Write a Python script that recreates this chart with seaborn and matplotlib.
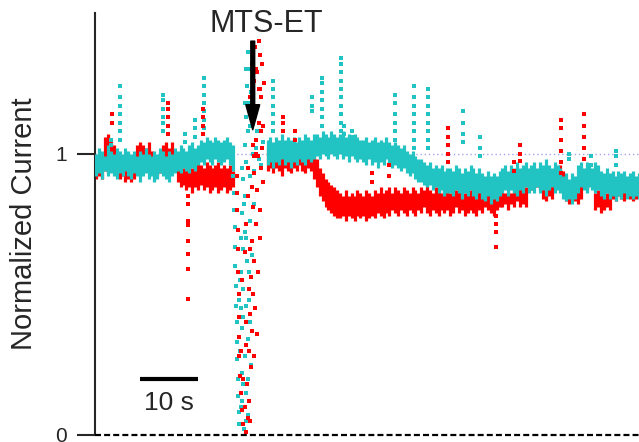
import numpy as np
import pandas as pd
import matplotlib
matplotlib.use('Agg')
import matplotlib.pyplot as plt
import seaborn as sns

# sampling grid of the two trace segments (0.5 s bins), gap = MTS-ET application
t_before = np.arange(0.25, 24.0, 0.5)
t_after = np.arange(29.75, 94.0, 0.5)

# noise envelope of each trace (low / high value per bin)
cyan_lo_before = [0.92, 0.93, 0.91, 0.94, 0.92, 0.93, 0.92, 0.91, 0.93, 0.92, 0.94, 0.92,
                  0.91, 0.93, 0.92, 0.90, 0.92, 0.93, 0.91, 0.92, 0.90, 0.91, 0.93, 0.92,
                  0.91, 0.90, 0.92, 0.93, 0.94, 0.93, 0.95, 0.94, 0.93, 0.95, 0.94, 0.96,
                  0.97, 0.96, 0.98, 0.97, 0.96, 0.98, 0.97, 0.96, 0.97, 0.98, 0.96, 0.94]
cyan_hi_before = [1.00, 1.02, 1.01, 0.99, 1.03, 1.01, 1.00, 1.02, 1.01, 1.00, 1.02, 1.01,
                  1.00, 1.01, 0.99, 1.01, 1.00, 1.02, 1.00, 0.99, 1.01, 1.00, 1.02, 1.01,
                  0.99, 1.01, 1.00, 1.02, 1.01, 1.03, 1.02, 1.01, 1.03, 1.04, 1.02, 1.03,
                  1.05, 1.04, 1.06, 1.05, 1.04, 1.06, 1.05, 1.04, 1.05, 1.06, 1.04, 1.03]
red_lo_before = [0.91, 0.92, 0.91, 0.94, 0.93, 0.95, 0.94, 0.92, 0.91, 0.92, 0.90, 0.91,
                 0.90, 0.91, 0.95, 0.96, 0.95, 0.97, 0.96, 0.95, 0.93, 0.92, 0.93, 0.96,
                 0.95, 0.97, 0.96, 0.95, 0.90, 0.88, 0.89, 0.87, 0.88, 0.86, 0.88, 0.87,
                 0.89, 0.87, 0.88, 0.86, 0.87, 0.88, 0.86, 0.87, 0.88, 0.86, 0.87, 0.88]
red_hi_before = [0.98, 0.99, 0.98, 1.06, 1.07, 1.05, 1.03, 0.99, 0.98, 0.97, 0.98, 0.96,
                 0.95, 0.96, 1.03, 1.04, 1.03, 1.02, 1.04, 1.01, 0.98, 0.97, 0.99, 1.03,
                 1.04, 1.02, 1.04, 1.01, 0.97, 0.96, 0.95, 0.96, 0.97, 0.95, 0.96, 0.97,
                 0.96, 0.95, 0.97, 0.96, 0.95, 0.96, 0.97, 0.95, 0.96, 0.95, 0.96, 0.94]

cyan_lo_after = [0.96, 0.97, 0.95, 0.97, 0.96, 0.98, 0.96, 0.97, 0.95, 0.97, 0.96, 0.98, 0.97, 0.96, 0.98, 0.97, 0.98,
                 0.99, 0.98, 1.00, 0.99, 0.98, 1.00, 0.99, 0.98, 1.00, 0.98, 0.99, 0.97, 0.99, 0.98, 0.97, 0.98,
                 0.97, 0.96, 0.98, 0.96, 0.97, 0.95, 0.97, 0.96, 0.98, 0.96, 0.95,
                 0.96, 0.95, 0.94, 0.95, 0.93, 0.92, 0.93, 0.91, 0.90,
                 0.90, 0.89, 0.88, 0.89, 0.87, 0.88, 0.86, 0.87, 0.85, 0.86,
                 0.86, 0.85, 0.87, 0.86, 0.84, 0.86, 0.85, 0.87, 0.85, 0.84, 0.86,
                 0.84, 0.83, 0.85, 0.82, 0.84, 0.83, 0.85,
                 0.86, 0.87, 0.85, 0.87, 0.86, 0.85, 0.87, 0.86, 0.88, 0.86,
                 0.87, 0.86, 0.88, 0.86, 0.87, 0.85, 0.87, 0.88, 0.86, 0.87, 0.86,
                 0.84, 0.83, 0.84, 0.82, 0.84,
                 0.86, 0.88, 0.87, 0.86, 0.88, 0.87, 0.86, 0.87,
                 0.85, 0.84, 0.86, 0.84, 0.85, 0.83, 0.85, 0.84, 0.86, 0.84, 0.85, 0.84, 0.85, 0.84]
cyan_hi_after = [1.05, 1.06, 1.04, 1.06, 1.05, 1.07, 1.05, 1.06, 1.05, 1.06, 1.04, 1.06, 1.05, 1.07, 1.06, 1.05, 1.07,
                 1.07, 1.06, 1.08, 1.07, 1.06, 1.08, 1.07, 1.06, 1.07, 1.08, 1.06, 1.07, 1.06, 1.07, 1.06, 1.05,
                 1.05, 1.06, 1.04, 1.05, 1.06, 1.04, 1.05, 1.04, 1.06, 1.04, 1.03,
                 1.04, 1.03, 1.02, 1.03, 1.01, 1.00, 1.01, 0.99, 0.98,
                 0.98, 0.97, 0.96, 0.97, 0.95, 0.96, 0.95, 0.96, 0.94, 0.95,
                 0.95, 0.94, 0.96, 0.95, 0.93, 0.95, 0.94, 0.96, 0.95, 0.93, 0.95,
                 0.93, 0.92, 0.94, 0.92, 0.93, 0.92, 0.94,
                 0.95, 0.96, 0.94, 0.96, 0.95, 0.97, 0.95, 0.96, 0.97, 0.95,
                 0.96, 0.97, 0.95, 0.97, 0.96, 0.98, 0.96, 0.95, 0.97, 0.96, 0.95,
                 0.92, 0.93, 0.91, 0.93, 0.92,
                 0.96, 0.97, 0.95, 0.97, 0.96, 0.95, 0.97, 0.96,
                 0.94, 0.93, 0.95, 0.93, 0.94, 0.92, 0.94, 0.93, 0.94, 0.92, 0.93, 0.94, 0.92, 0.93]
red_lo_after = [0.94, 0.95, 0.93, 0.95, 0.94, 0.92, 0.95, 0.94, 0.93, 0.95, 0.94, 0.96, 0.94, 0.93, 0.95, 0.94,
                0.91, 0.88, 0.85, 0.83, 0.81, 0.80, 0.79, 0.78, 0.77,
                0.77, 0.78, 0.76, 0.78, 0.77, 0.76, 0.78, 0.77, 0.78, 0.76, 0.77, 0.78, 0.77, 0.79, 0.78, 0.77,
                0.79, 0.78, 0.80, 0.79, 0.78, 0.80, 0.79, 0.78, 0.80, 0.79,
                0.78, 0.80, 0.79, 0.81, 0.79, 0.78, 0.80, 0.79, 0.78, 0.80,
                0.79, 0.80, 0.78, 0.79, 0.81, 0.79, 0.80, 0.78, 0.79, 0.80,
                0.79, 0.78, 0.80, 0.79, 0.81, 0.80, 0.79, 0.78, 0.80, 0.81,
                0.81, 0.82, 0.80, 0.82, 0.81, 0.83, 0.81, 0.82, 0.81,
                0.88, 0.87, 0.89, 0.88, 0.87,
                0.84, 0.83, 0.85, 0.84,
                0.89, 0.90, 0.88, 0.89,
                0.83, 0.82, 0.84, 0.83, 0.82, 0.84,
                0.88, 0.87, 0.89, 0.88,
                0.80, 0.81, 0.79, 0.80, 0.81, 0.80,
                0.84, 0.83, 0.85, 0.84, 0.83, 0.85, 0.84, 0.83, 0.84, 0.85]
red_hi_after = [1.02, 1.03, 1.01, 1.04, 1.02, 1.03, 1.01, 1.02, 1.04, 1.02, 1.01, 1.03, 1.02, 1.01, 1.03, 1.00,
                1.00, 0.98, 0.95, 0.93, 0.91, 0.90, 0.89, 0.88, 0.87,
                0.86, 0.85, 0.87, 0.85, 0.86, 0.85, 0.87, 0.86, 0.85, 0.87, 0.86, 0.85, 0.87, 0.86, 0.88, 0.86,
                0.87, 0.88, 0.86, 0.88, 0.87, 0.86, 0.88, 0.87, 0.86, 0.88,
                0.87, 0.86, 0.88, 0.87, 0.89, 0.87, 0.86, 0.88, 0.87, 0.86,
                0.88, 0.87, 0.86, 0.88, 0.87, 0.89, 0.87, 0.86, 0.88, 0.87,
                0.86, 0.88, 0.87, 0.86, 0.88, 0.87, 0.86, 0.88, 0.87, 0.88,
                0.87, 0.86, 0.88, 0.86, 0.87, 0.86, 0.88, 0.87, 0.88,
                0.94, 0.95, 0.93, 0.94, 0.92,
                0.90, 0.91, 0.89, 0.90,
                0.95, 0.94, 0.96, 0.94,
                0.89, 0.90, 0.88, 0.90, 0.89, 0.90,
                0.94, 0.95, 0.93, 0.94,
                0.86, 0.87, 0.86, 0.85, 0.86, 0.87,
                0.89, 0.90, 0.88, 0.89, 0.90, 0.88, 0.89, 0.90, 0.88, 0.89]

# single samples: spikes and the wash-in transient
cyan_dot_t = [4.3, 4.3, 4.3, 4.3, 4.3, 4.3, 4.3, 2.8, 2.8,
              11.7, 11.7, 11.7, 11.7, 11.7, 11.7, 15.5, 15.5, 17.2, 17.2, 17.2,
              18.8, 18.8, 18.8, 18.8, 18.8, 18.8, 18.8,
              23.8, 23.9, 24.0, 24.1, 24.15, 24.2, 24.3, 24.35, 24.4, 24.5, 24.55, 24.6, 24.7, 24.8, 24.9,
              25.1, 25.3, 25.0, 25.4, 25.2, 25.6, 25.1, 25.5, 25.8, 25.3, 25.9, 25.6, 26.1, 25.8, 26.3,
              26.0, 26.5, 26.2, 26.6, 26.4, 25.7, 26.0, 26.3, 26.6, 26.2, 26.8, 27.0, 27.3, 27.5, 27.8,
              28.2, 26.9, 26.4, 28.6, 28.9,
              25.0, 25.4, 25.9, 25.5, 26.1, 25.7, 26.4, 26.7, 26.9, 26.1, 25.9, 26.5, 26.0, 25.6, 26.8,
              27.1, 26.7, 27.2, 25.2, 24.9, 25.3, 26.3, 27.4, 28.0, 26.1,
              30.7, 30.7, 30.7, 30.7, 30.7, 30.7, 30.7, 37.5, 37.5, 37.5,
              39.1, 39.1, 39.1, 39.1, 39.1, 39.1, 39.1,
              42.4, 42.4, 42.4, 42.4, 42.4, 42.4, 42.4, 42.4, 42.4, 42.4, 43.0, 43.0, 44.3, 44.3,
              51.7, 51.7, 51.7, 51.7, 51.7, 51.7, 51.7,
              55.0, 55.0, 55.0, 55.0, 55.0, 55.0, 55.0, 55.0,
              57.4, 57.4, 57.4, 57.4, 57.4, 57.4, 57.4, 57.4,
              63.4, 63.4, 63.4, 63.4, 66.4, 66.4, 66.4, 81.8, 81.8, 85.5, 85.5, 89.8, 89.8, 89.8]
cyan_dot_v = [1.05, 1.08, 1.11, 1.14, 1.17, 1.20, 1.24, 1.03, 1.05,
              1.08, 1.11, 1.13, 1.16, 1.19, 1.21, 1.04, 1.07, 1.06, 1.09, 1.12,
              1.09, 1.12, 1.15, 1.18, 1.21, 1.24, 1.27,
              0.92, 0.86, 0.80, 0.74, 0.67, 0.60, 0.53, 0.46, 0.40, 0.33, 0.27, 0.20, 0.14, 0.08, 0.04,
              0.10, 0.22, 0.30, 0.38, 0.45, 0.52, 0.58, 0.66, 0.72, 0.79, 0.85, 0.91, 0.97, 1.03, 1.08,
              1.13, 1.18, 1.24, 1.30, 1.36, 0.02, 0.15, 0.34, 0.48, 0.62, 0.76, 0.88, 1.00, 0.94, 1.02,
              0.98, 0.25, 0.07, 0.96, 1.04,
              0.55, 0.12, 0.28, 0.42, 0.70, 0.82, 0.95, 1.10, 1.22, 1.30, 1.18, 0.58, 0.05, 0.18, 0.40,
              0.64, 0.92, 1.15, 0.70, 0.48, 0.95, 0.20, 0.82, 1.08, 0.46,
              1.08, 1.11, 1.14, 1.17, 1.20, 1.23, 1.26, 1.15, 1.17, 1.20,
              1.10, 1.13, 1.16, 1.19, 1.22, 1.25, 1.27,
              1.08, 1.11, 1.14, 1.17, 1.20, 1.23, 1.26, 1.29, 1.32, 1.34, 1.07, 1.10, 1.06, 1.08,
              1.02, 1.05, 1.08, 1.11, 1.14, 1.18, 1.21,
              1.02, 1.05, 1.08, 1.11, 1.14, 1.17, 1.20, 1.24,
              1.02, 1.05, 1.08, 1.11, 1.14, 1.17, 1.20, 1.23,
              1.04, 1.07, 1.11, 1.15, 0.99, 1.02, 1.06, 0.98, 1.00, 0.96, 0.99, 0.96, 0.99, 1.01]

red_dot_t = [2.9, 2.9, 12.6, 12.6, 12.6, 12.6, 12.6, 18.6, 18.6, 18.6, 18.6,
             16.0, 16.0, 16.0, 16.0, 16.0, 16.0, 16.0, 16.0,
             24.4, 24.5, 24.55, 24.6, 24.65, 24.7, 24.75, 24.8, 24.85, 24.9, 25.0, 25.1, 25.3, 25.5, 26.0,
             26.3, 26.6, 26.2, 26.9, 26.5, 27.1, 26.7, 27.3, 26.9, 27.5, 27.1, 27.7, 27.3, 27.9, 27.5,
             28.1, 27.7, 28.3, 27.9, 28.4, 28.0, 28.5, 28.2, 27.6, 27.0, 27.4, 26.8, 27.2, 28.6, 28.8,
             28.7, 26.0, 25.8, 26.3, 28.4, 28.9, 29.1,
             25.2, 25.6, 26.1, 26.5, 26.0, 26.8, 27.6, 27.0, 27.8, 28.6, 28.8, 28.3, 27.8, 28.9, 28.5,
             27.5, 26.7, 26.4, 27.2, 28.1, 25.4, 25.9, 27.9, 28.2, 27.4,
             32.5, 32.5, 32.5, 34.5, 34.5, 47.8, 47.8, 50.7, 50.7,
             60.9, 60.9, 60.9, 60.9, 60.9, 69.1, 69.1, 69.1, 69.1, 72.2, 72.2, 73.3, 73.3, 73.3,
             80.3, 80.3, 80.3, 80.3, 80.3, 80.3, 84.3, 84.3, 84.3, 84.3, 84.3]
red_dot_v = [1.11, 1.14, 1.07, 1.10, 1.13, 1.16, 1.18, 1.07, 1.10, 1.13, 1.16,
             0.85, 0.82, 0.76, 0.745, 0.69, 0.645, 0.59, 0.485,
             0.92, 0.86, 0.80, 0.73, 0.66, 0.58, 0.50, 0.42, 0.35, 0.28, 0.21, 0.15, 0.09, 0.04, 0.01,
             0.06, 0.12, 0.18, 0.24, 0.30, 0.37, 0.43, 0.50, 0.56, 0.62, 0.69, 0.75, 0.81, 0.87, 0.93,
             0.99, 1.05, 1.11, 1.17, 1.23, 1.29, 1.35, 1.40, 1.38, 1.32, 1.26, 1.20, 1.14, 1.08, 1.02,
             0.95, 0.40, 0.65, 0.85, 0.70, 1.10, 1.25,
             0.30, 0.20, 0.32, 0.52, 0.75, 0.66, 0.45, 0.88, 1.00, 1.20, 1.32, 1.40, 1.30, 0.90, 0.80,
             0.28, 0.05, 0.95, 1.03, 0.58, 0.55, 0.10, 0.36, 1.23, 0.99,
             1.08, 1.11, 1.13, 1.05, 1.08, 0.90, 0.93, 0.92, 0.96,
             0.97, 1.00, 1.03, 1.06, 1.09, 0.78, 0.75, 0.72, 0.67, 0.94, 0.97, 0.975, 1.00, 1.03,
             0.93, 0.97, 1.01, 1.05, 1.09, 1.12, 0.98, 1.02, 1.06, 1.10, 1.14]

assert len(cyan_lo_before) == len(cyan_hi_before) == len(red_lo_before) == len(red_hi_before) == len(t_before)
assert len(cyan_lo_after) == len(cyan_hi_after) == len(red_lo_after) == len(red_hi_after) == len(t_after)
assert len(cyan_dot_t) == len(cyan_dot_v) and len(red_dot_t) == len(red_dot_v)

RED = '#ff0000'
CYAN = '#22c3c3'

sns.set_style('ticks')
plt.rcParams['font.family'] = ['Liberation Sans', 'DejaVu Sans']

fig = plt.figure(figsize=(6.39, 4.42), dpi=100)
ax = fig.add_axes([95 / 639, 7 / 442, 544 / 639, 422 / 442])

# reference lines
ax.axhline(1, color='#a3a3f0', lw=1, ls=(0, (1, 2)), zorder=0)
ax.axhline(0, color='black', lw=1.6, ls=(0, (2.7, 1.4)), zorder=5, clip_on=False)

# dense traces drawn as per-bin envelopes
for t, lo, hi in [(t_before, red_lo_before, red_hi_before), (t_after, red_lo_after, red_hi_after)]:
    ax.vlines(t, lo, hi, color=RED, lw=2.3, zorder=2)
for t, lo, hi in [(t_before, cyan_lo_before, cyan_hi_before), (t_after, cyan_lo_after, cyan_hi_after)]:
    ax.vlines(t, lo, hi, color=CYAN, lw=2.3, zorder=3)

cyan_dots = pd.DataFrame({'t': cyan_dot_t, 'v': cyan_dot_v})
red_dots = pd.DataFrame({'t': red_dot_t, 'v': red_dot_v})
sns.scatterplot(data=cyan_dots, x='t', y='v', ax=ax, color=CYAN, marker='s', s=6, linewidth=0, zorder=4)
sns.scatterplot(data=red_dots, x='t', y='v', ax=ax, color=RED, marker='s', s=6, linewidth=0, zorder=4)

ax.set_xlim(0, 93.8)
ax.set_ylim(0, 1.5)
ax.set_yticks([0, 1])
ax.set_yticklabels(['0', '1'])
ax.set_xticks([])
ax.set_xlabel('')
for side in ['top', 'right', 'bottom']:
    ax.spines[side].set_visible(False)
ax.spines['left'].set_linewidth(1.5)
ax.tick_params(axis='y', direction='out', length=13, width=1.5, labelsize=15, pad=7)
ax.set_ylabel('Normalized Current', fontsize=21)
ax.yaxis.set_label_coords(-0.105, 0.5)

# MTS-ET application arrow
ax.annotate('', xy=(27.2, 1.085), xytext=(27.2, 1.40),
            arrowprops=dict(width=2.8, headwidth=10, headlength=18, shrink=0, color='black'),
            annotation_clip=False, zorder=6)
ax.text(29.5, 1.46, 'MTS-ET', fontsize=22, ha='center', va='center', clip_on=False)

# 10 s scale bar
ax.plot([7.76, 17.76], [0.199, 0.199], color='black', lw=3, solid_capstyle='butt')
ax.text(12.76, 0.113, '10 s', fontsize=19, ha='center', va='center')

fig.savefig('out.png', dpi=100)
plt.close(fig)
